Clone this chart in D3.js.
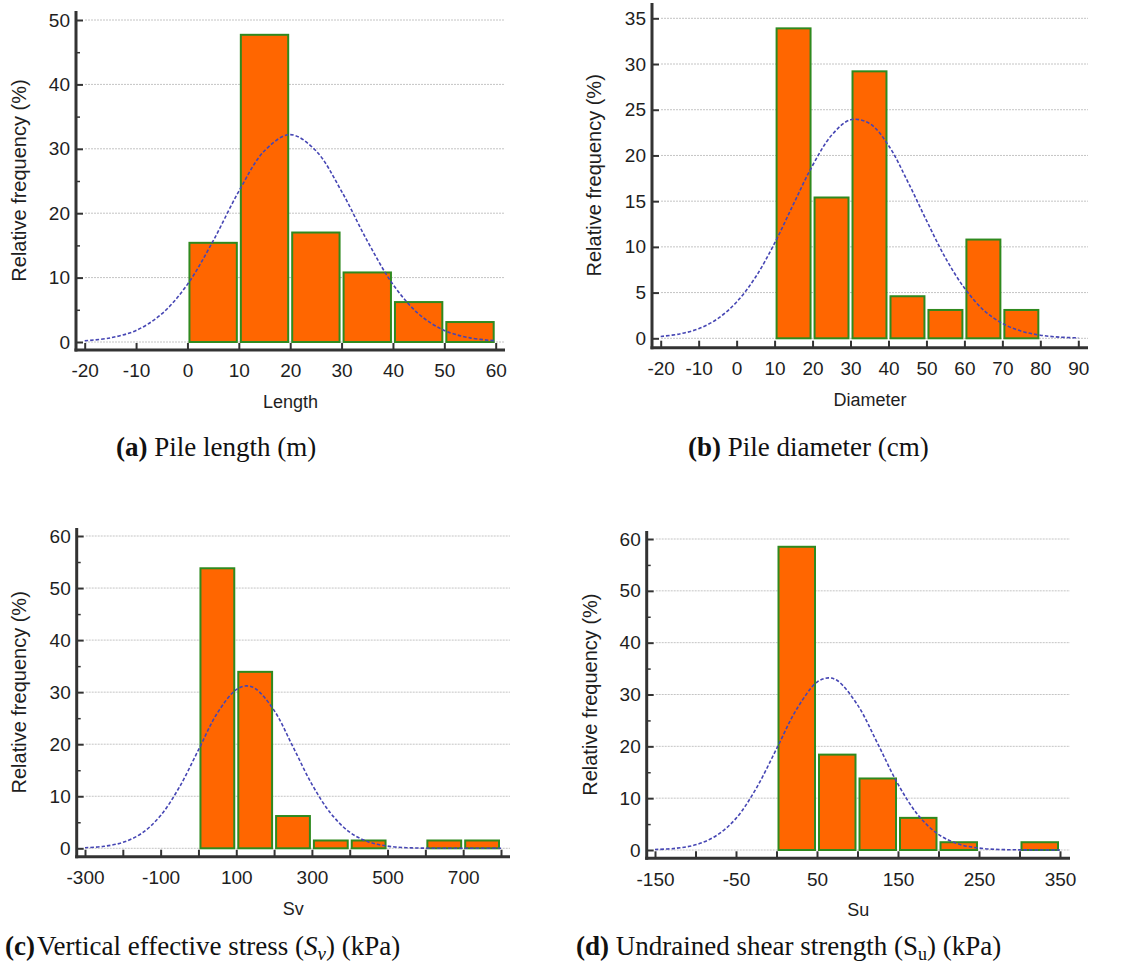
<!DOCTYPE html>
<html>
<head>
<meta charset="utf-8">
<script src="https://cdn.jsdelivr.net/npm/d3@7"></script>
<style>
  html, body { margin: 0; padding: 0; background: #fff; }
  svg { display: block; }
</style>
</head>
<body>
<svg id="chart" width="1141" height="964"></svg>
<script>
// ---------- DATA ----------
// (a) Pile length
const lengthBins = [0, 10, 20, 30, 40, 50, 60];
const lengthFreq = [15.4, 47.7, 17.0, 10.8, 6.2, 3.1];
const lengthCurveX = [-20, -15, -10, -5, 0, 5, 10, 15, 20, 25, 30, 35, 40, 45, 50, 55, 60];
const lengthCurveY = [0.19, 0.64, 1.8, 4.36, 8.95, 15.7, 23.4, 29.7, 32.2, 29.7, 23.4, 15.7, 8.95, 4.36, 1.8, 0.64, 0.19];
const lengthXTicks = [-20, -10, 0, 10, 20, 30, 40, 50, 60];
const lengthXLabels = [-20, -10, 0, 10, 20, 30, 40, 50, 60];
const lengthYTicks = [0, 10, 20, 30, 40, 50];
const lengthYMinor = [5, 15, 25, 35, 45];

// (b) Pile diameter
const diamBins = [10, 20, 30, 40, 50, 60, 70, 80];
const diamFreq = [33.9, 15.4, 29.2, 4.6, 3.1, 10.8, 3.1];
const diamCurveX = [-20, -15, -10, -5, 0, 5, 10, 15, 20, 25, 30, 35, 40, 45, 50, 55, 60, 65, 70, 75, 80, 85, 90];
const diamCurveY = [0.2, 0.48, 1.05, 2.14, 3.97, 6.7, 10.4, 14.7, 18.9, 22.2, 23.9, 23.5, 21.1, 17.2, 12.9, 8.8, 5.5, 3.1, 1.63, 0.78, 0.34, 0.13, 0.05];
const diamXTicks = [-20, -10, 0, 10, 20, 30, 40, 50, 60, 70, 80, 90];
const diamXLabels = [-20, -10, 0, 10, 20, 30, 40, 50, 60, 70, 80, 90];
const diamYTicks = [0, 5, 10, 15, 20, 25, 30, 35];
const diamYMinor = [];

// (c) Vertical effective stress
const svBins = [0, 100, 200, 300, 400, 500, 600, 700, 800];
const svFreq = [53.8, 33.9, 6.2, 1.5, 1.5, 0, 1.5, 1.5];
const svCurveX = [-300, -250, -200, -150, -100, -50, 0, 50, 100, 127, 150, 200, 250, 300, 350, 400, 450, 500, 550, 600, 650, 700, 750, 800];
const svCurveY = [0.11, 0.38, 1.14, 2.89, 6.3, 11.8, 18.9, 26.0, 30.5, 31.2, 30.7, 26.5, 19.5, 12.3, 6.7, 3.09, 1.23, 0.42, 0.12, 0.03, 0.01, 0, 0, 0];
const svXTicks = [-300, -200, -100, 0, 100, 200, 300, 400, 500, 600, 700, 800];
const svXLabels = [-300, -100, 100, 300, 500, 700];
const svYTicks = [0, 10, 20, 30, 40, 50, 60];
const svYMinor = [5, 15, 25, 35, 45, 55];

// (d) Undrained shear strength
const suBins = [0, 50, 100, 150, 200, 250, 300, 350];
const suFreq = [58.5, 18.4, 13.8, 6.2, 1.5, 0, 1.5];
const suCurveX = [-150, -125, -100, -75, -50, -25, 0, 25, 50, 64, 75, 100, 125, 150, 175, 200, 225, 250, 275, 300, 325, 350];
const suCurveY = [0.09, 0.32, 1.0, 2.7, 6.1, 11.9, 19.5, 27.2, 32.4, 33.2, 32.7, 28.0, 20.5, 12.7, 6.7, 3.0, 1.14, 0.37, 0.1, 0.03, 0.01, 0];
const suXTicks = [-150, -100, -50, 0, 50, 100, 150, 200, 250, 300, 350];
const suXLabels = [-150, -50, 50, 150, 250, 350];
const suYTicks = [0, 10, 20, 30, 40, 50, 60];
const suYMinor = [5, 15, 25, 35, 45, 55];

// ---------- DRAW ----------
const svg = d3.select("#chart");
const SANS = "'Liberation Sans', Arial, sans-serif";
const SERIF = "'Liberation Serif', 'Times New Roman', serif";
const ORANGE = "#ff6600", GREEN = "#2f8a1f", CURVE = "#4646b4", AXIS = "#333333", TEXT = "#1e1e1e";
const TICK_FS = 19, XT_FS = 18, YT_FS = 20, CAP_FS = 27;

function panel(cfg) {
  const g = svg.append("g");
  const x = d3.scaleLinear().domain(cfg.xDomain).range(cfg.xRange);
  const y = d3.scaleLinear().domain(cfg.yDomain).range(cfg.yRange);

  // gridlines
  g.append("g").selectAll("line").data(cfg.yTicks).join("line")
    .attr("x1", cfg.axisX + 9).attr("x2", cfg.rightEnd)
    .attr("y1", d => y(d)).attr("y2", d => y(d))
    .attr("stroke", "#c4c4c4").attr("stroke-width", 1).attr("stroke-dasharray", "2,1");

  // bars
  const bins = cfg.freq.map((v, i) => ({x0: cfg.bins[i], x1: cfg.bins[i + 1], v}))
    .filter(d => d.v > 0);
  g.append("g").selectAll("rect").data(bins).join("rect")
    .attr("x", d => x(d.x0) + 2)
    .attr("width", d => x(d.x1) - x(d.x0) - 4)
    .attr("y", d => y(d.v))
    .attr("height", d => y(0) - y(d.v))
    .attr("fill", ORANGE).attr("stroke", GREEN).attr("stroke-width", 2);

  // fitted curve
  const pts = cfg.curveX.map((v, i) => [v, cfg.curveY[i]]);
  g.append("path").datum(pts)
    .attr("d", d3.line().x(d => x(d[0])).y(d => y(d[1])).curve(d3.curveCatmullRom))
    .attr("fill", "none").attr("stroke", CURVE).attr("stroke-width", 1.6)
    .attr("stroke-dasharray", "3.5,2");

  // x axis
  const xa = g.append("g").attr("transform", `translate(0,${cfg.bottom})`)
    .call(d3.axisBottom(x).tickValues(cfg.xTicks).tickSize(-7).tickPadding(14)
      .tickFormat(d => cfg.xLabels.includes(d) ? d : ""));
  xa.select(".domain").remove();
  xa.selectAll(".tick line").attr("stroke", AXIS).attr("stroke-width", 2);
  xa.selectAll("text").attr("font-family", SANS).attr("font-size", TICK_FS).attr("fill", TEXT);

  // y axis
  const ya = g.append("g").attr("transform", `translate(${cfg.axisX},0)`)
    .call(d3.axisLeft(y).tickValues(cfg.yTicks).tickSize(-7).tickPadding(6));
  ya.select(".domain").remove();
  ya.selectAll(".tick line").attr("stroke", AXIS).attr("stroke-width", 2);
  ya.selectAll("text").attr("font-family", SANS).attr("font-size", TICK_FS).attr("fill", TEXT);
  if (cfg.yMinor.length) {
    const ym = g.append("g").attr("transform", `translate(${cfg.axisX},0)`)
      .call(d3.axisLeft(y).tickValues(cfg.yMinor).tickSize(-4).tickFormat(""));
    ym.select(".domain").remove();
    ym.selectAll(".tick line").attr("stroke", AXIS).attr("stroke-width", 1.5);
  }

  // axis lines
  g.append("line").attr("x1", cfg.axisX).attr("x2", cfg.axisX)
    .attr("y1", cfg.top).attr("y2", cfg.bottom + 1.5)
    .attr("stroke", AXIS).attr("stroke-width", 3);
  g.append("line").attr("x1", cfg.axisX - 1.5).attr("x2", cfg.rightEnd)
    .attr("y1", cfg.bottom).attr("y2", cfg.bottom)
    .attr("stroke", AXIS).attr("stroke-width", 3);

  // axis titles
  g.append("text").attr("x", (cfg.axisX + cfg.rightEnd) / 2).attr("y", cfg.bottom + 58)
    .attr("text-anchor", "middle").attr("font-family", SANS).attr("font-size", XT_FS)
    .attr("fill", TEXT).text(cfg.xTitle);
  g.append("text")
    .attr("transform", `translate(${cfg.yTitleX},${(cfg.top + cfg.bottom) / 2}) rotate(-90)`)
    .attr("text-anchor", "middle").attr("dy", "0.35em").attr("font-family", SANS).attr("font-size", YT_FS)
    .attr("fill", TEXT).text("Relative frequency (%)");

  // caption
  const cap = svg.append("text").attr("x", cfg.capX).attr("y", cfg.capY)
    .attr("font-family", SERIF).attr("font-size", CAP_FS).attr("fill", "#111");
  cfg.caption(cap);
}

panel({
  xDomain: [-20, 60], xRange: [84.7, 495.7], yDomain: [0, 50], yRange: [342, 20],
  axisX: 76, bottom: 350, top: 11, rightEnd: 505,
  bins: lengthBins, freq: lengthFreq, curveX: lengthCurveX, curveY: lengthCurveY,
  xTicks: lengthXTicks, xLabels: lengthXLabels, yTicks: lengthYTicks, yMinor: lengthYMinor,
  xTitle: "Length", yTitleX: 19,
  capX: 116, capY: 456,
  caption: t => { t.append("tspan").attr("font-weight", "bold").text("(a)"); t.append("tspan").text(" Pile length (m)"); }
});

panel({
  xDomain: [-20, 90], xRange: [660.7, 1078.3], yDomain: [0, 35], yRange: [338.3, 18.3],
  axisX: 652, bottom: 347.7, top: 3, rightEnd: 1088,
  bins: diamBins, freq: diamFreq, curveX: diamCurveX, curveY: diamCurveY,
  xTicks: diamXTicks, xLabels: diamXLabels, yTicks: diamYTicks, yMinor: diamYMinor,
  xTitle: "Diameter", yTitleX: 594,
  capX: 688, capY: 456,
  caption: t => { t.append("tspan").attr("font-weight", "bold").text("(b)"); t.append("tspan").text(" Pile diameter (cm)"); }
});

panel({
  xDomain: [-300, 800], xRange: [85, 501], yDomain: [0, 60], yRange: [848.3, 536],
  axisX: 76.7, bottom: 856.7, top: 528, rightEnd: 510,
  bins: svBins, freq: svFreq, curveX: svCurveX, curveY: svCurveY,
  xTicks: svXTicks, xLabels: svXLabels, yTicks: svYTicks, yMinor: svYMinor,
  xTitle: "Sv", yTitleX: 19,
  capX: 5, capY: 955,
  caption: t => {
    t.append("tspan").attr("font-weight", "bold").text("(c)");
    t.append("tspan").attr("dx", 2).text("Vertical effective stress (");
    t.append("tspan").attr("font-style", "italic").text("S");
    t.append("tspan").attr("font-style", "italic").attr("font-size", 19).attr("dy", 5).text("v");
    t.append("tspan").attr("dy", -5).text(") (kPa)");
  }
});

panel({
  xDomain: [-150, 350], xRange: [655, 1060], yDomain: [0, 60], yRange: [850, 539],
  axisX: 646.7, bottom: 858.3, top: 531, rightEnd: 1070,
  bins: suBins, freq: suFreq, curveX: suCurveX, curveY: suCurveY,
  xTicks: suXTicks, xLabels: suXLabels, yTicks: suYTicks, yMinor: suYMinor,
  xTitle: "Su", yTitleX: 590,
  capX: 576, capY: 955,
  caption: t => {
    t.append("tspan").attr("font-weight", "bold").text("(d)");
    t.append("tspan").text(" Undrained shear strength (S");
    t.append("tspan").attr("font-size", 18).attr("dy", 5).text("u");
    t.append("tspan").attr("dy", -5).text(") (kPa)");
  }
});
</script>
</body>
</html>
